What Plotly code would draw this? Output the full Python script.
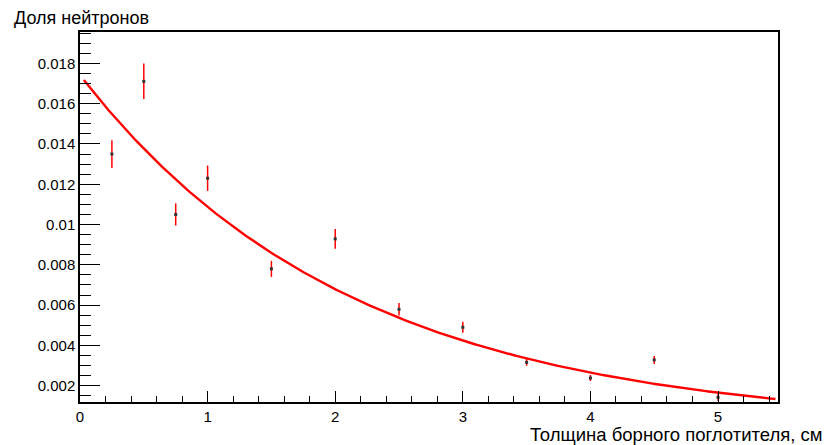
import plotly.graph_objects as go
import numpy as np

# Data
thickness = [0.25, 0.5, 0.75, 1.0, 1.5, 2.0, 2.5, 3.0, 3.5, 4.0, 4.5, 5.0]
fraction = [0.01350, 0.01711, 0.01050, 0.01230, 0.00780, 0.00929, 0.00579, 0.00490, 0.00316, 0.00238, 0.00328, 0.00142]
fraction_err = [0.00069, 0.00088, 0.00055, 0.00063, 0.00040, 0.00049, 0.00031, 0.00027, 0.00017, 0.00015, 0.00020, 0.00018]

# Exponential fit parameters: f(x) = A * exp(-k x)
fit_A = 0.01742
fit_k = 0.471
fit_range = [0.03, 5.45]

y_tickvals = [0.002, 0.004, 0.006, 0.008, 0.010, 0.012, 0.014, 0.016, 0.018]
y_ticktext = ["0.002", "0.004", "0.006", "0.008", "0.01", "0.012", "0.014", "0.016", "0.018"]
x_tickvals = [0, 1, 2, 3, 4, 5]
x_ticktext = ["0", "1", "2", "3", "4", "5"]

xf = np.linspace(fit_range[0], fit_range[1], 300)
yf = fit_A * np.exp(-fit_k * xf)

fig = go.Figure()
fig.add_trace(go.Scatter(x=xf, y=yf, mode="lines",
                         line=dict(color="#ff0000", width=2.4), hoverinfo="skip"))
fig.add_trace(go.Scatter(x=thickness, y=fraction, mode="markers",
                         marker=dict(color="#333333", size=3, symbol="square"),
                         error_y=dict(type="data", array=fraction_err, color="#ff0000",
                                      thickness=1.5, width=0)))

font = "Liberation Sans, Arial, sans-serif"
fig.update_layout(
    width=832, height=445,
    margin=dict(l=80, r=54, t=32, b=43, autoexpand=False),
    paper_bgcolor="white", plot_bgcolor="white",
    showlegend=False,
    font=dict(family=font, size=15, color="black"),
    annotations=[
        dict(text="Доля нейтронов", xref="paper", yref="paper",
             x=-0.0974, y=1.037, xanchor="left", yanchor="middle",
             showarrow=False, font=dict(size=18, family=font, color="black")),
        dict(text="Толщина борного поглотителя, см", xref="paper", yref="paper",
             x=1.0673, y=-0.088, xanchor="right", yanchor="middle",
             showarrow=False, font=dict(size=18.5, family=font, color="black")),
    ],
)
fig.update_xaxes(
    range=[0, 5.47], showgrid=False, zeroline=False, automargin=False,
    showline=True, linecolor="black", linewidth=1.5, mirror=True,
    ticks="inside", ticklen=11, tickwidth=1.2, tickcolor="black",
    tickvals=x_tickvals, ticktext=x_ticktext,
    minor=dict(ticks="inside", ticklen=6, dtick=0.2, tick0=0, tickcolor="black", tickwidth=1.2),
    tickfont=dict(size=15),
)
fig.update_yaxes(
    range=[0.00119, 0.01956], showgrid=False, zeroline=False, automargin=False,
    showline=True, linecolor="black", linewidth=1.5, mirror=True,
    ticks="inside", ticklen=20, tickwidth=1.2, tickcolor="black",
    tickvals=y_tickvals, ticktext=y_ticktext,
    minor=dict(ticks="inside", ticklen=11, dtick=0.0005, tick0=0, tickcolor="black", tickwidth=1.2),
    tickfont=dict(size=15),
)
fig.write_html("out.html", config={"displayModeBar": False},
               post_script="document.body.style.margin='0';")
